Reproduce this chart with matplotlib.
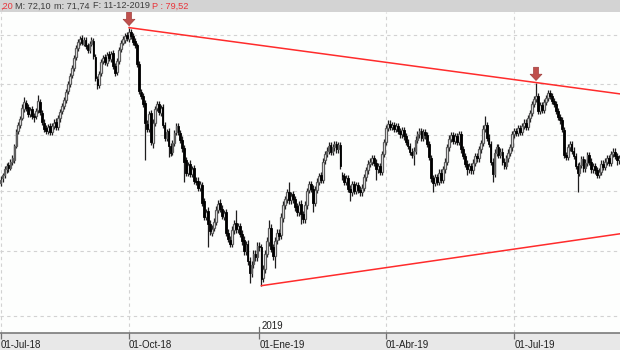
import numpy as np
import pandas as pd
import matplotlib
matplotlib.use('Agg')
import matplotlib.pyplot as plt
from matplotlib.patches import Rectangle
from matplotlib.ticker import NullLocator

# daily OHLC, first bar = 2018-07-02 (business days)
opens = [
    65.7, 66.1, 66.4, 66.9, 67.3, 67.0, 67.6, 67.7, 69.0, 70.4,
    71.0, 71.6, 72.5, 73.1, 72.7, 72.0, 72.5, 71.8, 71.8, 72.4,
    73.2, 72.1, 71.2, 70.7, 70.4, 70.9, 70.3, 70.9, 71.3, 70.8,
    71.6, 72.3, 72.8, 73.4, 74.3, 75.0, 75.9, 76.6, 77.7, 78.6,
    79.3, 79.7, 79.1, 79.5, 78.9, 78.4, 79.1, 79.4, 77.7, 75.5,
    74.9, 76.1, 77.3, 77.7, 77.1, 78.0, 77.5, 78.1, 76.8, 76.2,
    77.3, 78.5, 79.2, 79.5, 80.0, 79.6, 80.3, 79.9, 79.4, 78.9,
    77.0, 74.2, 73.8, 73.1, 71.1, 70.6, 72.1, 69.3, 71.2, 72.6,
    73.0, 72.1, 72.7, 71.0, 69.8, 70.4, 69.0, 68.5, 69.3, 70.3,
    70.9, 70.2, 69.6, 68.8, 67.7, 66.6, 67.4, 66.5, 67.0, 65.9,
    65.9, 65.3, 65.5, 64.1, 62.8, 63.3, 62.2, 61.5, 61.9, 62.4,
    63.4, 64.0, 63.5, 62.8, 63.2, 61.5, 60.9, 60.6, 61.7, 62.3,
    61.8, 62.0, 61.4, 60.9, 60.0, 60.6, 59.2, 58.3, 59.0, 59.8,
    59.5, 60.4, 60.3, 57.9, 58.6, 59.8, 60.7, 61.9, 60.3, 59.6,
    60.9, 61.5, 61.3, 62.7, 63.8, 64.3, 64.9, 64.2, 64.7, 64.3,
    63.7, 63.2, 63.9, 63.0, 62.6, 63.8, 65.1, 65.6, 65.2, 64.0,
    65.1, 65.8, 66.4, 66.0, 67.7, 68.3, 68.6, 69.1, 68.5, 68.9,
    69.2, 68.7, 69.1, 66.4, 66.3, 65.8, 66.1, 65.2, 64.9, 65.6,
    65.0, 65.5, 65.1, 64.9, 65.3, 66.2, 66.8, 67.4, 67.6, 67.9,
    67.5, 66.9, 67.2, 66.7, 68.3, 69.4, 70.7, 71.1, 70.8, 71.0,
    70.6, 70.9, 70.4, 70.1, 70.5, 69.9, 69.4, 69.0, 68.5, 68.2,
    68.6, 69.6, 70.1, 70.4, 69.8, 70.3, 70.0, 69.2, 67.9, 66.1,
    65.7, 66.2, 65.8, 66.6, 66.0, 66.9, 67.6, 68.9, 69.7, 70.0,
    69.5, 69.9, 69.4, 70.1, 68.7, 68.1, 67.4, 66.9, 67.2, 66.8,
    67.5, 68.1, 67.9, 68.7, 69.3, 70.6, 71.0, 69.8, 69.2, 67.6,
    66.5, 68.4, 68.9, 68.2, 68.5, 67.6, 67.2, 67.9, 68.4, 68.9,
    70.1, 70.4, 70.2, 70.7, 70.3, 70.9, 71.2, 70.8, 71.6, 72.1,
    73.0, 73.5, 73.8, 72.3, 72.9, 72.4, 73.2, 73.6, 74.1, 73.8,
    73.3, 73.0, 72.3, 71.7, 71.4, 70.5, 68.2, 68.0, 68.9, 69.2,
    68.6, 68.1, 67.2, 66.6, 67.3, 67.8, 67.0, 67.5, 68.2, 67.6,
    66.9, 67.2, 66.8, 66.4, 66.7, 67.4, 67.1, 67.6, 67.9, 67.5,
    68.3, 68.5, 68.1, 67.7]

highs = [
    66.3, 66.6, 67.2, 67.5, 67.6, 67.8, 68.2, 69.2, 70.6, 71.3,
    71.8, 73.0, 73.7, 73.4, 73.0, 72.7, 72.8, 72.1, 72.6, 73.9,
    73.5, 72.4, 71.5, 71.0, 71.1, 71.2, 71.2, 71.5, 71.6, 71.9,
    72.5, 73.1, 73.7, 74.5, 75.3, 76.1, 76.9, 77.9, 78.9, 79.6,
    79.9, 80.0, 79.8, 79.8, 79.2, 79.4, 79.8, 79.7, 78.0, 75.8,
    76.3, 77.5, 77.9, 78.0, 78.2, 78.3, 78.3, 78.4, 77.1, 77.6,
    78.7, 79.5, 79.9, 80.2, 80.3, 80.8, 80.6, 80.2, 79.7, 79.2,
    77.3, 74.5, 74.1, 73.4, 71.4, 72.3, 72.4, 71.5, 72.8, 73.3,
    73.3, 72.9, 73.0, 71.3, 70.6, 70.7, 69.3, 69.6, 70.5, 71.2,
    71.2, 70.5, 69.9, 69.1, 68.0, 67.6, 67.7, 67.2, 67.3, 66.2,
    66.2, 65.9, 65.8, 64.4, 63.5, 63.6, 62.5, 62.1, 62.7, 63.7,
    64.2, 64.3, 63.8, 63.4, 63.5, 61.8, 61.2, 62.0, 62.5, 63.4,
    62.3, 62.3, 61.7, 61.2, 60.8, 60.9, 59.5, 59.2, 60.1, 60.1,
    60.7, 60.7, 60.6, 58.9, 60.1, 61.1, 62.5, 62.2, 60.6, 61.1,
    61.8, 61.8, 63.1, 64.1, 64.6, 65.2, 65.8, 64.9, 65.0, 64.6,
    64.0, 64.1, 64.2, 63.3, 64.1, 65.3, 65.9, 65.9, 65.5, 65.4,
    66.1, 66.6, 66.7, 67.9, 68.6, 68.9, 69.4, 69.4, 69.2, 69.5,
    69.5, 69.4, 69.4, 66.7, 66.6, 66.4, 66.4, 65.5, 65.9, 65.9,
    65.8, 65.8, 65.4, 65.6, 66.5, 67.1, 67.7, 67.9, 68.2, 68.2,
    67.8, 67.5, 67.5, 68.6, 69.7, 71.0, 71.4, 71.4, 71.3, 71.3,
    71.2, 71.2, 70.7, 70.8, 70.8, 70.2, 69.7, 69.3, 68.8, 68.9,
    69.9, 70.4, 70.7, 70.7, 70.6, 70.6, 70.3, 69.5, 68.2, 66.4,
    66.5, 66.5, 66.9, 66.9, 67.2, 67.9, 69.2, 70.0, 70.3, 70.3,
    70.2, 70.2, 70.4, 70.4, 69.0, 68.4, 67.7, 67.5, 67.5, 67.8,
    68.4, 68.4, 69.0, 69.6, 71.0, 71.8, 71.3, 70.1, 69.5, 67.9,
    68.7, 69.2, 69.2, 68.8, 68.8, 67.9, 68.2, 68.7, 69.2, 70.4,
    70.7, 70.7, 71.0, 71.0, 71.2, 71.5, 71.5, 71.9, 72.4, 73.3,
    73.8, 75.1, 74.1, 73.2, 73.2, 73.5, 73.9, 74.4, 74.4, 74.1,
    73.6, 73.3, 72.6, 72.0, 71.7, 70.8, 68.5, 69.2, 69.5, 69.5,
    68.9, 68.4, 67.5, 67.6, 68.1, 68.1, 67.8, 68.5, 68.5, 67.9,
    67.5, 67.5, 67.1, 67.0, 67.7, 67.7, 67.9, 68.2, 68.2, 68.6,
    68.8, 68.8, 68.4, 68.2]

lows = [
    65.4, 65.8, 66.1, 66.6, 66.7, 66.8, 67.3, 67.5, 68.8, 70.1,
    70.7, 71.4, 72.2, 72.3, 71.7, 71.7, 71.5, 71.3, 71.5, 72.1,
    71.9, 71.0, 70.3, 70.1, 70.1, 70.0, 70.0, 70.6, 70.5, 70.5,
    71.3, 72.0, 72.5, 73.1, 74.0, 74.7, 75.6, 76.3, 77.4, 78.3,
    79.0, 78.9, 78.8, 78.5, 78.1, 78.1, 78.8, 77.5, 75.3, 74.5,
    74.6, 75.8, 77.0, 76.9, 76.8, 77.3, 77.2, 76.5, 75.8, 75.9,
    77.0, 78.2, 78.9, 79.2, 79.4, 79.3, 79.6, 79.0, 78.6, 76.7,
    74.0, 73.5, 72.7, 67.7, 70.3, 70.3, 69.1, 68.8, 70.9, 72.3,
    71.9, 71.8, 70.7, 69.5, 69.5, 68.0, 68.1, 68.2, 69.0, 70.0,
    70.0, 69.3, 68.5, 65.8, 66.3, 66.3, 66.2, 66.2, 65.6, 65.5,
    65.0, 65.0, 63.7, 62.5, 62.5, 60.3, 61.3, 61.2, 61.6, 62.1,
    63.1, 63.2, 62.6, 62.5, 61.2, 60.7, 60.3, 60.3, 61.4, 61.5,
    61.5, 61.1, 60.5, 59.7, 59.7, 58.9, 57.5, 58.0, 58.7, 59.2,
    59.2, 60.0, 57.3, 57.6, 58.3, 59.5, 60.4, 59.9, 59.3, 58.7,
    60.6, 60.9, 61.0, 62.4, 63.5, 64.0, 63.9, 63.9, 64.0, 63.3,
    62.9, 62.9, 62.2, 62.3, 62.3, 63.5, 64.8, 64.9, 63.2, 63.7,
    64.8, 65.5, 65.7, 65.7, 67.4, 68.0, 68.3, 68.2, 68.2, 68.6,
    68.4, 68.4, 66.9, 66.0, 65.5, 65.5, 64.9, 64.1, 64.6, 64.7,
    64.7, 64.8, 64.6, 64.6, 65.0, 65.9, 66.5, 67.1, 67.3, 67.2,
    66.0, 66.6, 66.4, 66.4, 68.0, 69.1, 70.4, 70.5, 70.5, 70.3,
    70.3, 70.1, 69.8, 69.8, 69.6, 69.1, 68.7, 68.2, 67.9, 67.3,
    68.3, 69.3, 69.8, 69.5, 69.5, 69.7, 68.9, 67.7, 65.8, 64.9,
    65.4, 65.5, 65.5, 65.7, 65.7, 66.6, 67.3, 68.6, 69.4, 69.2,
    69.2, 69.1, 69.1, 68.4, 67.8, 67.1, 66.4, 66.6, 66.5, 66.5,
    67.2, 67.6, 67.6, 68.4, 69.0, 70.3, 69.5, 68.9, 67.3, 65.8,
    66.2, 68.1, 67.9, 67.9, 67.3, 66.9, 66.9, 67.6, 68.1, 68.6,
    69.8, 69.9, 69.9, 70.0, 70.0, 70.6, 70.5, 70.5, 71.3, 71.8,
    72.7, 73.2, 72.0, 72.0, 72.1, 72.1, 72.9, 73.3, 73.5, 73.0,
    72.7, 72.0, 71.4, 71.1, 70.3, 67.9, 67.7, 67.7, 68.6, 68.3,
    67.8, 66.9, 64.9, 66.3, 67.0, 66.7, 66.7, 67.2, 67.3, 66.6,
    66.6, 66.5, 66.1, 66.1, 66.4, 66.8, 66.8, 67.3, 67.2, 67.2,
    68.0, 67.8, 67.3, 67.4]

closes = [
    66.0, 66.4, 66.9, 67.2, 67.0, 67.6, 67.9, 69.0, 70.3, 71.0,
    71.5, 72.6, 73.2, 72.6, 72.0, 72.4, 71.8, 71.7, 72.3, 73.3,
    72.2, 71.3, 70.6, 70.4, 70.8, 70.3, 70.9, 71.2, 70.8, 71.6,
    72.2, 72.8, 73.4, 74.2, 75.0, 75.8, 76.6, 77.6, 78.6, 79.3,
    79.6, 79.2, 79.5, 78.8, 78.4, 79.1, 79.5, 77.8, 75.6, 74.9,
    76.0, 77.2, 77.6, 77.2, 77.9, 77.6, 78.0, 76.8, 76.1, 77.3,
    78.4, 79.2, 79.6, 79.9, 79.7, 80.3, 79.9, 79.3, 78.9, 77.0,
    74.3, 73.8, 73.0, 71.2, 70.6, 72.0, 69.4, 71.2, 72.5, 73.0,
    72.2, 72.6, 71.0, 69.8, 70.3, 69.0, 68.4, 69.3, 70.2, 70.9,
    70.3, 69.6, 68.8, 67.6, 66.6, 67.3, 66.5, 66.9, 65.9, 65.8,
    65.3, 65.6, 64.0, 62.8, 63.2, 62.2, 61.6, 61.8, 62.4, 63.4,
    63.9, 63.5, 62.9, 63.1, 61.5, 61.0, 60.6, 61.7, 62.2, 61.8,
    62.0, 61.4, 60.8, 60.0, 60.5, 59.2, 58.3, 58.9, 59.8, 59.5,
    60.4, 60.3, 57.8, 58.6, 59.8, 60.8, 61.9, 60.2, 59.6, 60.8,
    61.5, 61.2, 62.8, 63.8, 64.3, 64.9, 64.2, 64.6, 64.3, 63.6,
    63.2, 63.8, 63.0, 62.6, 63.8, 65.0, 65.6, 65.2, 64.0, 65.1,
    65.8, 66.3, 66.0, 67.6, 68.3, 68.6, 69.0, 68.5, 68.9, 69.2,
    68.7, 69.1, 67.2, 66.3, 65.8, 66.1, 65.2, 64.9, 65.6, 65.0,
    65.5, 65.1, 64.9, 65.3, 66.2, 66.8, 67.4, 67.6, 67.9, 67.5,
    66.9, 67.2, 66.7, 68.3, 69.4, 70.7, 71.1, 70.8, 71.0, 70.6,
    70.9, 70.4, 70.1, 70.5, 69.9, 69.4, 69.0, 68.5, 68.2, 68.6,
    69.6, 70.1, 70.4, 69.8, 70.3, 70.0, 69.2, 68.0, 66.1, 65.7,
    66.2, 65.8, 66.6, 66.0, 66.9, 67.6, 68.9, 69.7, 70.0, 69.5,
    69.9, 69.4, 70.1, 68.7, 68.1, 67.4, 66.9, 67.2, 66.8, 67.5,
    68.1, 67.9, 68.7, 69.3, 70.6, 71.0, 69.8, 69.2, 67.6, 66.5,
    68.4, 68.9, 68.2, 68.5, 67.6, 67.2, 67.9, 68.4, 68.9, 70.1,
    70.4, 70.2, 70.7, 70.3, 70.9, 71.2, 70.8, 71.6, 72.1, 73.0,
    73.5, 73.8, 72.3, 72.9, 72.4, 73.2, 73.6, 74.1, 73.8, 73.3,
    73.0, 72.3, 71.7, 71.4, 70.6, 68.2, 68.0, 68.9, 69.2, 68.6,
    68.1, 67.2, 66.6, 67.3, 67.8, 67.0, 67.5, 68.2, 67.6, 66.9,
    67.2, 66.8, 66.4, 66.7, 67.4, 67.1, 67.6, 67.9, 67.5, 68.3,
    68.5, 68.1, 67.7, 67.9]

tick_dates = ['2018-07-01', '2018-10-01', '2019-01-01', '2019-04-01', '2019-07-01']
tick_labels = ['01-Jul-18', '01-Oct-18', '01-Ene-19', '01-Abr-19', '01-Jul-19']
vgrid_dates = ['2018-07-01', '2018-10-01', '2019-04-01', '2019-07-01']
grid_levels = [55, 60, 65, 70, 75, 80]

# trendlines: two pivot highs on top, one pivot low + value at right edge below
top_pivots = [65, 271]
low_pivot = 132
low_line_end = 61.4

o = np.array(opens)
h = np.array(highs)
l = np.array(lows)
c = np.array(closes)
x = np.arange(len(c))
dates = pd.bdate_range('2018-07-02', periods=len(c))
up = c >= o
x_end = 313.5

fig = plt.figure(figsize=(6.2, 3.5), dpi=100, facecolor='#e8e8e8')
ax = fig.add_axes([0, 17 / 350, 1, 321 / 350])
ax.set_facecolor('#fdfefd')
ax.set_yscale('log')
ax.set_xlim(-0.3, x_end)
ax.set_ylim(53.8, 82.5)

# grid
ax.set_yticks(grid_levels)
ax.set_yticklabels([])
ax.yaxis.set_minor_locator(NullLocator())
ax.tick_params(axis='y', length=0)
ax.grid(axis='y', color='#d2d2d2', lw=0.8, ls=(0, (3, 3)), zorder=0)
for d in np.searchsorted(dates, pd.to_datetime(vgrid_dates)):
    ax.axvline(d, color='#d2d2d2', lw=0.8, ls=(0, (3, 3)), zorder=0)

# candles
ax.vlines(x, l, h, color='#1e1e1e', lw=0.9, zorder=2)
ax.bar(x[up], c[up] - o[up], bottom=o[up], width=0.9, facecolor='white',
       edgecolor='#5e5e5e', lw=0.9, zorder=3)
ax.bar(x[~up], o[~up] - c[~up], bottom=c[~up], width=0.9, color='black',
       edgecolor='black', lw=0.6, zorder=3)

# resistance line through the two pivot highs
i0, i1 = top_pivots
slope = (np.log(h[i1]) - np.log(h[i0])) / (i1 - i0)
xs = np.array([i0, x_end])
ax.plot(xs, np.exp(np.log(h[i0]) + slope * (xs - i0)), color='#ff2b2b', lw=1.1, zorder=4)
# support line from the low
ax.plot([low_pivot, x_end], [l[low_pivot], low_line_end], color='#ff2b2b', lw=1.1, zorder=4)

for i in top_pivots:
    ax.annotate('', xy=(i, h[i]), xytext=(0, 11), textcoords='offset points',
                arrowprops=dict(arrowstyle='simple,head_length=0.45,head_width=0.85,tail_width=0.35',
                                fc='#c0504d', ec='#a03c3a', lw=0.5, shrinkA=0, shrinkB=1.5),
                zorder=5)

# x axis
tick_idx = np.searchsorted(dates, pd.to_datetime(tick_dates))
ax.set_xticks(tick_idx)
ax.set_xticklabels(tick_labels, ha='left', fontsize=7, family='Liberation Sans', color='#202020')
ax.tick_params(axis='x', direction='out', length=4.5, width=0.9, color='#707070', pad=0.5)
for s in ['top', 'left', 'right']:
    ax.spines[s].set_visible(False)
ax.spines['bottom'].set_color('#707070')
ax.spines['bottom'].set_linewidth(1.1)

jan = tick_idx[2]
ax.axvline(jan, ymin=0, ymax=0.02, color='#707070', lw=0.9)
ax.annotate('2019', xy=(jan, 0), xycoords=('data', 'axes fraction'), xytext=(1.5, 1.5),
            textcoords='offset points', ha='left', va='bottom', fontsize=7,
            family='Liberation Sans', color='#202020')

# header bar
fig.add_artist(Rectangle((0, 338 / 350), 1, 12 / 350, transform=fig.transFigure,
                         facecolor='#d3d3d3', edgecolor='none'))
header = [(0, ',20', '#e8343a'), (15, 'M: 72,10', '#3c3c3c'), (54, 'm: 71,74', '#3c3c3c'),
          (93, 'F: 11-12-2019', '#3c3c3c'), (152, 'P : 79,52', '#e8343a')]
for px, txt, col in header:
    fig.text(px / 620, 344 / 350, txt, ha='left', va='center', fontsize=6.6,
             family='Liberation Sans', color=col)

fig.savefig('out.png', dpi=100)
